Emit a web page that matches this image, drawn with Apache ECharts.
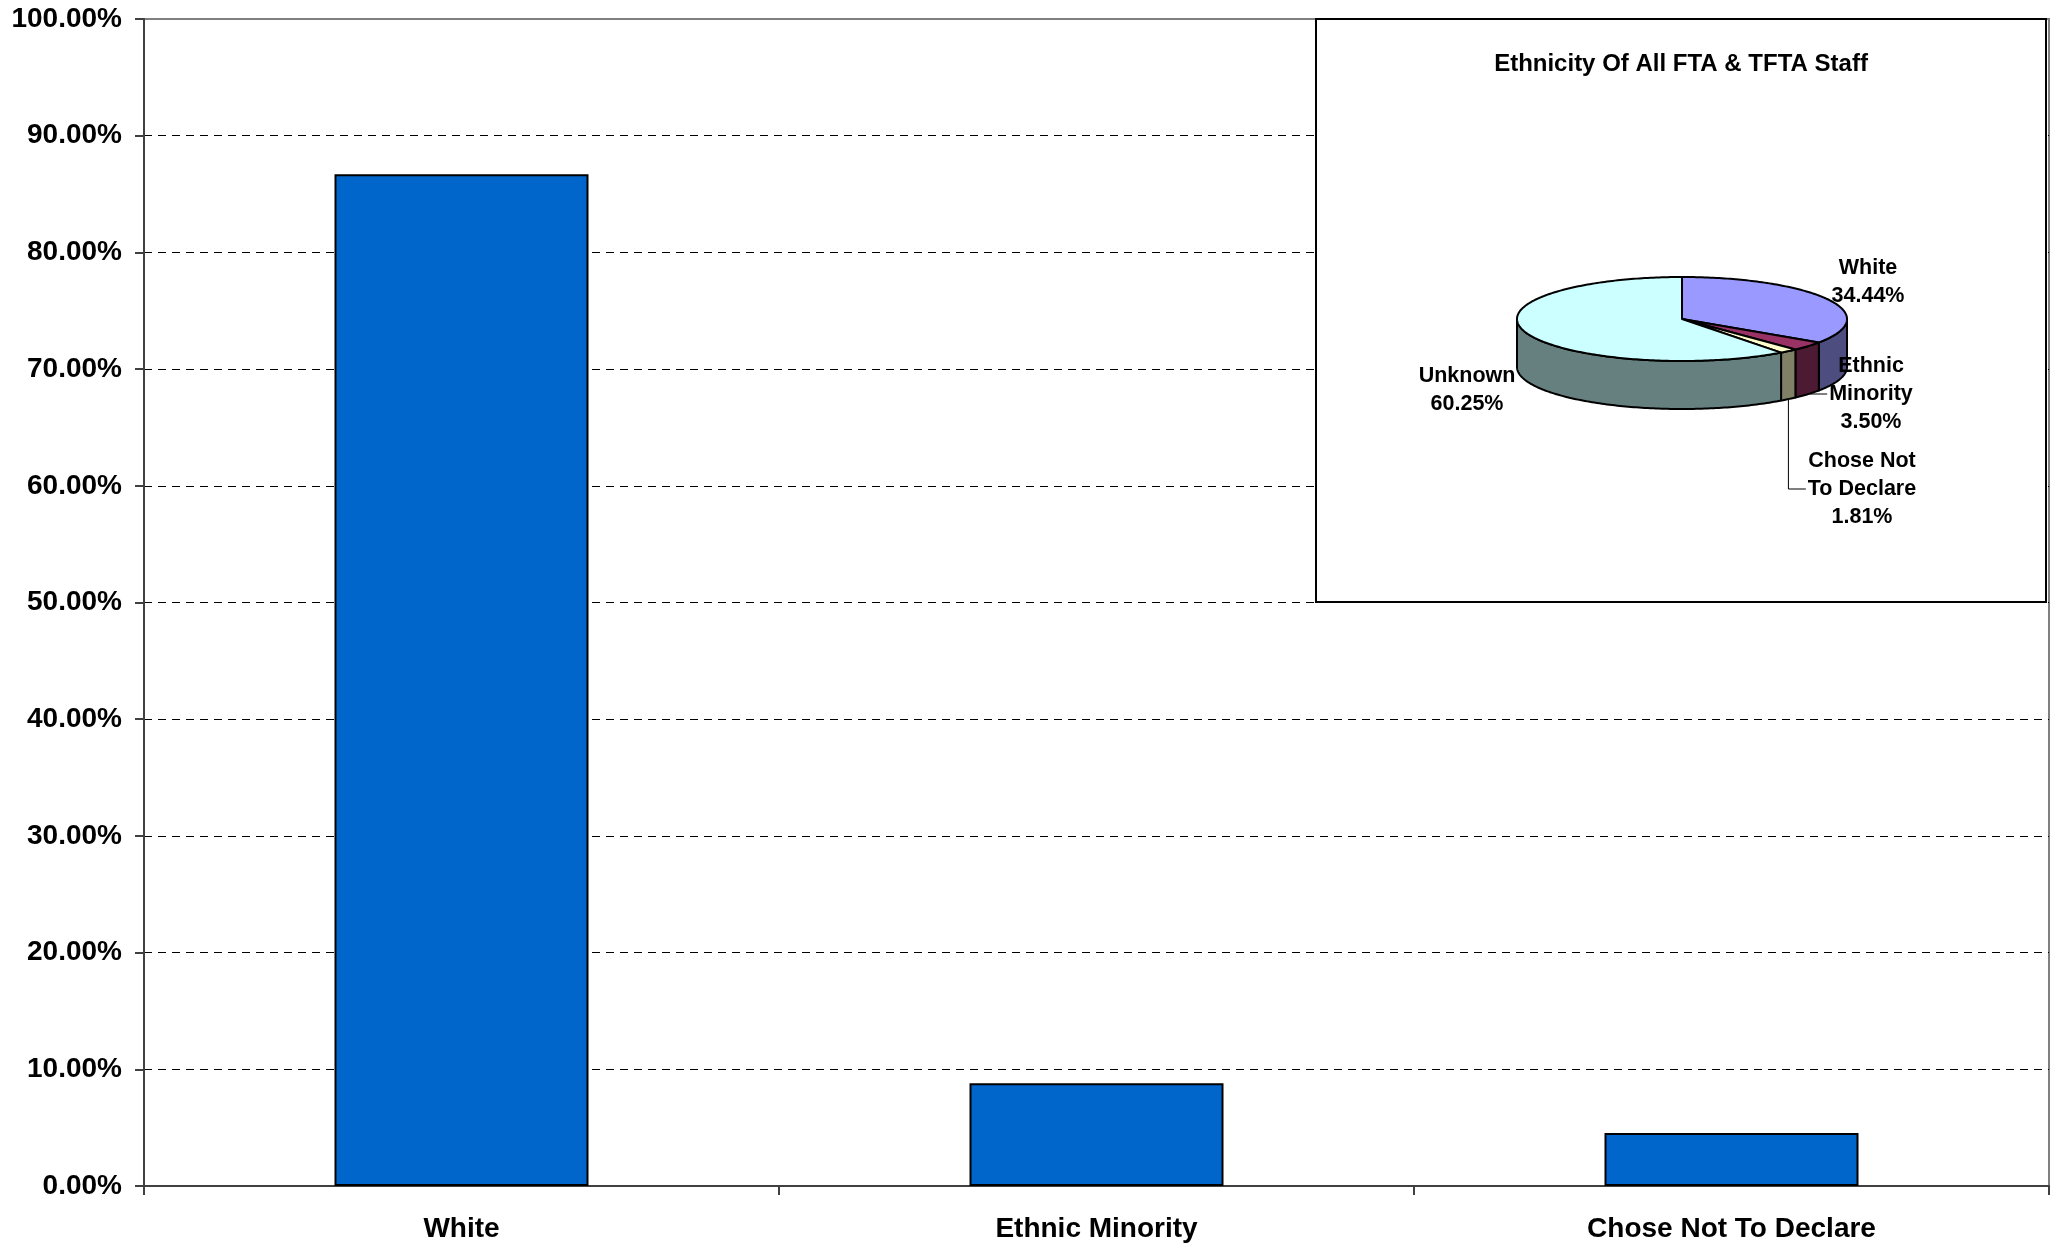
<!DOCTYPE html>
<html>
<head>
<meta charset="utf-8">
<script src="https://cdn.jsdelivr.net/npm/echarts@6/dist/echarts.min.js"></script>
<style>
html,body{margin:0;padding:0;background:#fff;}
#chart{width:2060px;height:1247px;}
</style>
</head>
<body>
<div id="chart"></div>
<script>
// ---- data ----
const categories = ['White', 'Ethnic Minority', 'Chose Not To Declare'];
const barValues = [86.7, 8.8, 4.55];
const yMin = 0, yMax = 100, yInterval = 10;

const insetTitle = 'Ethnicity Of All FTA & TFTA Staff';
const pieNames = ['White', 'Ethnic Minority', 'Chose Not To Declare', 'Unknown'];
const pieValues = [34.44, 3.50, 1.81, 60.25];
const pieLabelNames = [['White'], ['Ethnic', 'Minority'], ['Chose Not', 'To Declare'], ['Unknown']];

// ---- styles / layout ----
const FONT = 'Liberation Sans, Arial, Helvetica, sans-serif';
const pieTopColors = ['#9999FF', '#993366', '#FFFFCC', '#CCFFFF'];
const pieSideColors = ['#4D4D80', '#4D1A33', '#808066', '#668080'];
const box = { x: 1316, y: 19, w: 730, h: 583 };
const pie = { cx: 1682, cy: 319, rx: 165, ry: 42, depth: 48 };
const labelOffsets = [[186, -37], [189, 75], [180, 170], [-215, 71]];
const labelLeader = [false, true, true, false];
const LABEL_SIZE = 21.5, LABEL_LH = 28;

const measureCtx = document.createElement('canvas').getContext('2d');
function textWidth(t, size) {
  measureCtx.font = 'bold ' + size + 'px ' + FONT;
  return measureCtx.measureText(t).width;
}

const total = pieValues.reduce((a, b) => a + b, 0);
const cum = [0];
pieValues.forEach((v, i) => cum.push(cum[i] + v));

function pt(th, dy) {
  return [pie.cx + pie.rx * Math.sin(th), pie.cy - pie.ry * Math.cos(th) + (dy || 0)];
}
function arc(a, b, dy) {
  const n = Math.max(2, Math.ceil((b - a) / (Math.PI / 180)));
  const pts = [];
  for (let k = 0; k <= n; k++) pts.push(pt(a + (b - a) * k / n, dy));
  return pts;
}

function renderSlice(params, api) {
  const i = params.dataIndex;
  const start = cum[i] / total * Math.PI * 2;
  const end = cum[i + 1] / total * Math.PI * 2;
  const children = [];
  const s = Math.max(start, Math.PI / 2), e = Math.min(end, Math.PI * 1.5);
  if (e > s) {
    const top = arc(s, e, 0);
    const bot = arc(s, e, pie.depth).reverse();
    children.push({
      type: 'polygon', z2: 1,
      shape: { points: top.concat(bot) },
      style: { fill: pieSideColors[i], stroke: '#000', lineWidth: 2, lineJoin: 'round' }
    });
  }
  children.push({
    type: 'polygon', z2: 10,
    shape: { points: [[pie.cx, pie.cy]].concat(arc(start, end, 0)) },
    style: { fill: pieTopColors[i], stroke: '#000', lineWidth: 2, lineJoin: 'round' }
  });
  const lines = pieLabelNames[i].concat([api.value(0).toFixed(2) + '%']);
  const lx = pie.cx + labelOffsets[i][0];
  const ly = pie.cy + labelOffsets[i][1];
  children.push({
    type: 'text', z2: 30,
    style: {
      text: lines.join('\n'), x: lx, y: ly,
      align: 'center', verticalAlign: 'middle',
      font: 'bold ' + LABEL_SIZE + 'px ' + FONT,
      lineHeight: LABEL_LH, fill: '#000'
    }
  });
  if (labelLeader[i]) {
    const mid = (start + end) / 2;
    const p0 = pt(mid, pie.depth);
    const lineY = ly - (lines.length - 1) * LABEL_LH / 2 + LABEL_LH;
    const wText = textWidth(lines[1], LABEL_SIZE);
    const xEnd = lx - wText / 2 - 2;
    children.push({
      type: 'polyline', z2: 20,
      shape: { points: [p0, [p0[0], lineY], [xEnd, lineY]] },
      style: { stroke: '#000', lineWidth: 1, fill: null }
    });
  }
  return { type: 'group', children: children };
}

const chart = echarts.init(document.getElementById('chart'), null, { renderer: 'canvas' });
chart.setOption({
  animation: false,
  backgroundColor: '#fff',
  textStyle: { fontFamily: FONT },
  grid: {
    left: 144, right: 11, top: 19, bottom: 61,
    show: true, borderColor: '#808080', borderWidth: 2, backgroundColor: 'transparent'
  },
  xAxis: {
    type: 'category',
    data: categories,
    boundaryGap: true,
    axisLine: { show: true, lineStyle: { color: '#404040', width: 2 } },
    axisTick: { show: true, alignWithLabel: false, length: 9, lineStyle: { color: '#404040', width: 2 } },
    axisLabel: { color: '#000', fontWeight: 'bold', fontSize: 28, fontFamily: FONT, margin: 29 },
    splitLine: { show: false }
  },
  yAxis: {
    type: 'value',
    min: yMin, max: yMax, interval: yInterval,
    axisLine: { show: true, lineStyle: { color: '#404040', width: 2 } },
    axisTick: { show: true, length: 9, lineStyle: { color: '#404040', width: 2 } },
    axisLabel: {
      color: '#000', fontWeight: 'bold', fontSize: 28, fontFamily: FONT, margin: 22,
      formatter: v => v.toFixed(2) + '%'
    },
    splitLine: { show: true, showMinLine: false, showMaxLine: false, lineStyle: { color: '#000', width: 1, type: [8, 6] } }
  },
  graphic: [
    {
      type: 'rect', z: 5,
      shape: { x: box.x, y: box.y, width: box.w, height: box.h },
      style: { fill: '#fff', stroke: '#000', lineWidth: 2 }
    },
    {
      type: 'text', z: 6,
      style: {
        text: insetTitle, x: box.x + box.w / 2, y: 64,
        align: 'center', verticalAlign: 'middle',
        font: 'bold 24px ' + FONT, fill: '#000'
      }
    }
  ],
  series: [
    {
      type: 'bar',
      data: barValues,
      barCategoryGap: '60%',
      itemStyle: { color: '#0066CC', borderColor: '#000', borderWidth: 2 },
      z: 3
    },
    {
      type: 'custom',
      coordinateSystem: 'none',
      name: 'Ethnicity Of All FTA & TFTA Staff',
      data: pieValues.map((v, i) => ({ name: pieNames[i], value: [v] })),
      renderItem: renderSlice,
      silent: true,
      z: 10
    }
  ]
});
</script>
</body>
</html>
